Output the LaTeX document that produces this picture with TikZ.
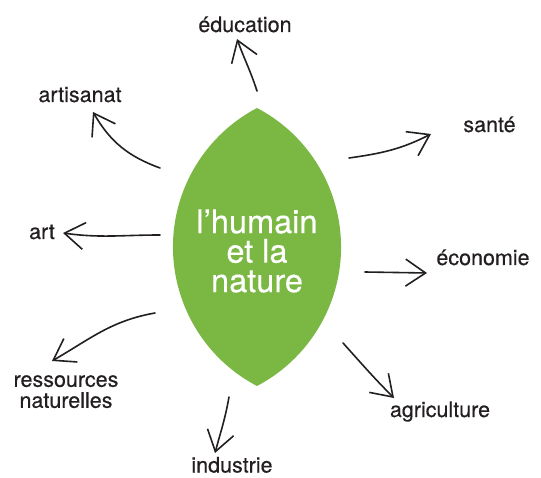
\documentclass[tikz,border=0pt]{standalone}
\usepackage{fontspec}
\setmainfont{TeX Gyre Heros}[FakeBold=0.4]
\usetikzlibrary{arrows.meta}
\definecolor{leafgreen}{RGB}{122,183,67}
\definecolor{ink}{RGB}{35,31,32}
\begin{document}
\begin{tikzpicture}[x=1pt,y=1pt,word/.style={text=ink,inner sep=0pt,align=center,font=\fontsize{21.5}{21}\selectfont},arr/.style={draw=ink,line width=1.6pt,line cap=round,line join=round,-{Straight Barb[length=20pt,width=27pt]}}]
\useasboundingbox (0,0) rectangle (541,477);
\fill[leafgreen] (257,369) arc[start angle=62.3,end angle=-62.3,radius=157] arc[start angle=242.3,end angle=117.7,radius=157] -- cycle;
\node[text=white,align=center,inner sep=0pt,font=\fontsize{32.5}{29.5}\selectfont] (leaf) at (257,226) {l’humain\\et la\\nature};
\node[word,anchor=base] (edu) at (245,445) {éducation};
\node[word,anchor=base] (artis) at (80,375) {artisanat};
\node[word,anchor=base] (sante) at (489.5,345) {santé};
\node[word,anchor=base] (art) at (42,238) {art};
\node[word,anchor=base] (eco) at (483,212) {économie};
\node[word,anchor=north] (res) at (66,102) {ressources\\naturelles};
\node[word,anchor=base] (agri) at (440,60) {agriculture};
\node[word,anchor=base] (indus) at (232,4.5) {industrie};
\coordinate (s-edu) at (257,386); \coordinate (t-edu) at (237,438);
\coordinate (s-artis) at (160,309); \coordinate (t-artis) at (93,365);
\coordinate (s-sante) at (349,319); \coordinate (t-sante) at (431,343);
\coordinate (s-art) at (160,242); \coordinate (t-art) at (63,244);
\coordinate (s-eco) at (365,205); \coordinate (t-eco) at (427,204);
\coordinate (s-agri) at (343,134); \coordinate (t-agri) at (394,79);
\coordinate (s-indus) at (229,80); \coordinate (t-indus) at (215,24);
\coordinate (s-res) at (155,164); \coordinate (t-res) at (52,116);
\draw[arr] (s-edu) to[out=108,in=-70] (t-edu);
\draw[arr] (s-artis) to[out=160,in=-60] (t-artis);
\draw[arr] (s-sante) to[out=8,in=-153] (t-sante);
\draw[arr] (s-art) to[out=180,in=-8] (t-art);
\draw[arr] (s-eco) -- (t-eco);
\draw[arr] (s-agri) to[out=-48,in=135] (t-agri);
\draw[arr] (s-indus) to[out=-100,in=75] (t-indus);
\draw[arr] (s-res) to[out=190,in=30] (t-res);
\end{tikzpicture}
\end{document}
